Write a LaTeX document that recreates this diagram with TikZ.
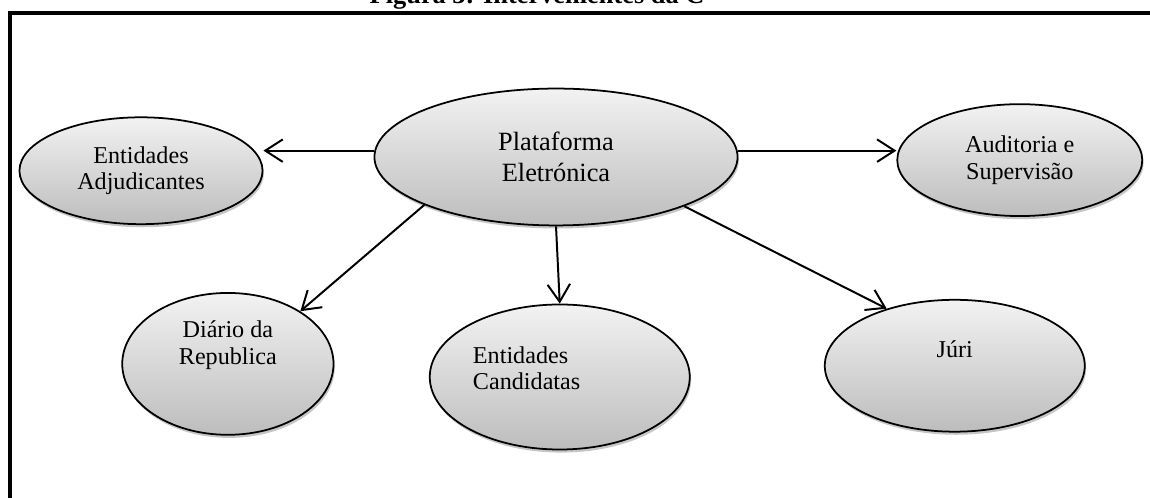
\documentclass[tikz,border=0pt]{standalone}
\usepackage{fontspec}
\setmainfont{Liberation Serif}
\usetikzlibrary{shapes,arrows,arrows.meta,positioning,calc,shadows}

\begin{document}
\begin{tikzpicture}[node distance=1.5cm, >={Straight Barb[length=2.8mm,width=3.6mm]}, line width=0.9pt,
    ent/.style={draw, ellipse, top color=black!5, bottom color=black!26, line width=0.8pt,
        drop shadow={shadow xshift=0.6pt, shadow yshift=-1.4pt, opacity=0.45},
        inner sep=0pt, align=center, font=\fontsize{11}{12}\selectfont},
    lbl/.style={inner sep=0pt, font=\fontsize{11}{12}\selectfont}]
    \useasboundingbox (0,0) rectangle (18.4,-7.968);

    % Frame and caption (cut by the page edge)
    \begin{scope}[overlay]
        \clip (0,0) rectangle (18.4,-7.968);
        \draw[line width=1.4pt] (0.16,-0.208) rectangle (18.7,-8.3);
        \node[anchor=base west, inner sep=0pt, font=\bfseries\fontsize{12}{14}\selectfont] (T) at (5.9,-0.064) {Figura 3: Intervenientes da C};
    \end{scope}

    % Platform
    \node[ent, minimum width=5.81cm, minimum height=2.19cm, font=\fontsize{12}{14.4}\selectfont] (P) at (8.896,-2.512) {Plataforma\\Eletrónica};

    % Upper row
    \node[ent, minimum width=3.89cm, minimum height=1.71cm, left of=P, node distance=6.64cm, yshift=-0.22cm] (EA) {Entidades\\Adjudicantes};
    \node[ent, minimum width=3.92cm, minimum height=1.79cm, right of=P, node distance=7.42cm, yshift=-0.05cm] (AS) {Auditoria e\\Supervisão};

    % Lower row
    \node[ent, minimum width=3.38cm, minimum height=2.27cm, below of=P, node distance=3.31cm, xshift=-5.25cm] (DR) {};
    \node[lbl, align=center] (DRt) at ($(DR)+(0,0.3)$) {Diário da\\Republica};
    \node[ent, minimum width=4.16cm, minimum height=2.32cm, below of=P, node distance=3.52cm, xshift=0.06cm] (EC) {};
    \node[lbl, align=left] (ECt) at ($(EC)+(-0.53,0.14)$) {Entidades\\Candidatas};
    \node[ent, minimum width=4.16cm, minimum height=2.11cm, below of=P, node distance=3.34cm, xshift=6.38cm] (JU) {};
    \node[lbl] (JUt) at ($(JU)+(0,0.26)$) {Júri};

    % Links
    \draw[->] (P.178) -- (EA.east |- P.178);
    \draw[->] (P.2) -- (AS.west |- P.2);
    \draw[->] (P.200) -- (DR.36);
    \draw[->] (P.south) -- (EC.north);
    \draw[->] (P.339) -- (JU.140);
\end{tikzpicture}
\end{document}
